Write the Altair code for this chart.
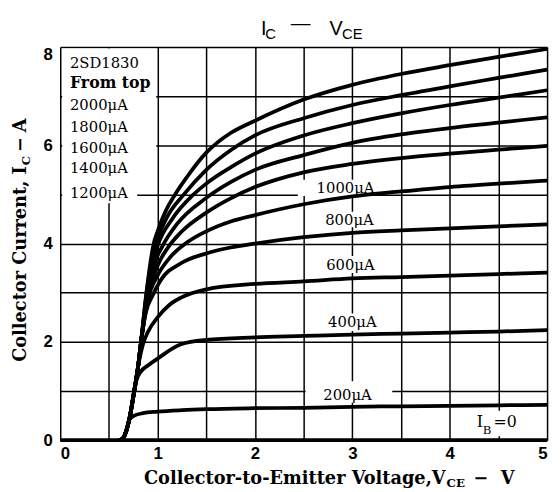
import altair as alt
import pandas as pd

# ---------------- data ----------------
grid_vce = [0, 0.5, 1, 1.5, 2, 2.5, 3, 3.5, 4, 4.5, 5]
grid_ic = [0, 1, 2, 3, 4, 5, 6, 7, 8]

ib_labels = ["2000μA", "1800μA", "1600μA", "1400μA", "1200μA",
             "1000μA", "800μA", "600μA", "400μA", "200μA", "0"]

vce_2000 = [0.6, 0.64, 0.68, 0.71, 0.76, 0.8, 0.83, 0.885, 0.96, 1.0, 1.08, 1.18, 1.3, 1.5, 1.61, 1.75, 2.0, 2.5, 3.0, 3.5, 4.0, 4.5, 5.0]
ic_2000 = [0.0, 0.03, 0.2, 0.43, 1.0, 1.5, 2.0, 3.0, 4.0, 4.25, 4.65, 5.0, 5.35, 5.85, 6.05, 6.25, 6.5, 6.93, 7.23, 7.45, 7.63, 7.8, 7.96]

vce_1800 = [0.6, 0.64, 0.68, 0.71, 0.76, 0.8, 0.83, 0.885, 0.96, 1.0, 1.1, 1.27, 1.5, 1.75, 2.0, 2.5, 3.0, 3.5, 4.0, 4.5, 5.0]
ic_1800 = [0.0, 0.03, 0.2, 0.43, 1.0, 1.5, 2.0, 2.97, 3.85, 4.1, 4.55, 5.0, 5.5, 5.9, 6.2, 6.55, 6.82, 7.02, 7.2, 7.37, 7.54]

vce_1600 = [0.6, 0.64, 0.68, 0.71, 0.76, 0.8, 0.83, 0.89, 0.97, 1.0, 1.15, 1.37, 1.5, 1.75, 2.0, 2.5, 3.0, 3.5, 4.0, 4.5, 5.0]
ic_1600 = [0.0, 0.03, 0.2, 0.43, 1.0, 1.5, 2.0, 2.95, 3.75, 3.95, 4.5, 5.0, 5.22, 5.55, 5.83, 6.2, 6.45, 6.65, 6.82, 6.97, 7.12]

vce_1400 = [0.6, 0.64, 0.68, 0.71, 0.76, 0.8, 0.83, 0.9, 0.98, 1.05, 1.2, 1.5, 1.75, 2.0, 2.5, 3.0, 3.5, 4.0, 4.5, 5.0]
ic_1400 = [0.0, 0.03, 0.2, 0.43, 1.0, 1.5, 2.0, 2.95, 3.65, 3.95, 4.4, 4.93, 5.25, 5.5, 5.8, 6.05, 6.22, 6.35, 6.46, 6.57]

vce_1200 = [0.6, 0.64, 0.68, 0.71, 0.76, 0.8, 0.83, 0.9, 1.0, 1.1, 1.25, 1.5, 1.75, 2.0, 2.5, 3.0, 3.5, 4.0, 4.5, 5.0]
ic_1200 = [0.0, 0.03, 0.2, 0.43, 1.0, 1.5, 2.0, 2.9, 3.55, 3.9, 4.25, 4.63, 4.92, 5.15, 5.45, 5.62, 5.74, 5.83, 5.91, 5.99]

vce_1000 = [0.6, 0.64, 0.68, 0.71, 0.76, 0.8, 0.83, 0.9, 1.0, 1.12, 1.3, 1.5, 1.75, 2.0, 2.5, 3.0, 3.5, 4.0, 4.5, 5.0]
ic_1000 = [0.0, 0.03, 0.2, 0.43, 1.0, 1.5, 2.0, 2.85, 3.35, 3.7, 4.02, 4.25, 4.45, 4.58, 4.8, 4.96, 5.06, 5.15, 5.22, 5.28]

vce_800 = [0.6, 0.64, 0.68, 0.71, 0.76, 0.8, 0.83, 0.88, 0.95, 1.03, 1.24, 1.5, 1.75, 2.0, 2.5, 3.0, 3.5, 4.0, 4.5, 5.0]
ic_800 = [0.0, 0.03, 0.2, 0.43, 1.0, 1.5, 2.0, 2.6, 2.95, 3.25, 3.6, 3.8, 3.92, 4.0, 4.13, 4.22, 4.27, 4.31, 4.35, 4.39]

vce_600 = [0.6, 0.64, 0.68, 0.71, 0.76, 0.8, 0.85, 0.9, 1.0, 1.12, 1.24, 1.5, 2.0, 2.5, 3.0, 3.5, 4.0, 4.5, 5.0]
ic_600 = [0.0, 0.03, 0.2, 0.43, 1.0, 1.5, 1.95, 2.2, 2.5, 2.75, 2.9, 3.07, 3.18, 3.23, 3.29, 3.32, 3.35, 3.38, 3.41]

vce_400 = [0.6, 0.64, 0.68, 0.71, 0.76, 0.78, 0.83, 0.9, 1.0, 1.24, 1.5, 2.0, 2.5, 3.0, 3.5, 4.0, 4.5, 5.0]
ic_400 = [0.0, 0.03, 0.2, 0.43, 1.0, 1.2, 1.4, 1.52, 1.66, 1.95, 2.04, 2.09, 2.12, 2.15, 2.17, 2.19, 2.21, 2.24]

vce_200 = [0.6, 0.64, 0.68, 0.71, 0.75, 0.85, 1.0, 1.25, 1.5, 2.0, 2.5, 3.0, 3.5, 4.0, 4.5, 5.0]
ic_200 = [0.0, 0.03, 0.2, 0.42, 0.49, 0.55, 0.58, 0.61, 0.63, 0.65, 0.66, 0.68, 0.69, 0.7, 0.71, 0.72]

vce_0 = [0.0, 5.0]
ic_0 = [0.0, 0.0]

series_vce = [vce_2000, vce_1800, vce_1600, vce_1400, vce_1200,
              vce_1000, vce_800, vce_600, vce_400, vce_200, vce_0]
series_ic = [ic_2000, ic_1800, ic_1600, ic_1400, ic_1200,
             ic_1000, ic_800, ic_600, ic_400, ic_200, ic_0]

# legend box text (top-left)
box_texts = ["2SD1830", "From top", "2000μA", "1800μA", "1600μA", "1400μA", "1200μA"]
box_text_y = [7.68, 7.27, 6.81, 6.37, 5.95, 5.53, 5.03]
box_text_bold = [False, True, False, False, False, False, False]

# curve labels
curve_label_text = ["1000μA", "800μA", "600μA", "400μA", "200μA"]
curve_label_x = [2.93, 2.97, 2.98, 3.0, 2.95]
curve_label_y = [5.13, 4.47, 3.57, 2.4, 0.92]

# white label backgrounds (they hide the grid)
bg_x1 = [0.02, 0.02, 2.44, 2.72, 2.72, 2.72, 2.52, 4.2]
bg_x2 = [0.985, 0.79, 3.2, 3.25, 3.25, 3.28, 3.41, 4.8]
bg_y1 = [5.04, 4.82, 4.97, 4.33, 3.4, 2.22, 0.76, 0.08]
bg_y2 = [7.97, 5.04, 5.3, 4.65, 3.75, 2.58, 1.2, 0.6]

# ---------------- tables ----------------
rows = []
for name, xs, ys in zip(ib_labels, series_vce, series_ic):
    for k, (a, b) in enumerate(zip(xs, ys)):
        rows.append({"ib": name, "vce": a, "ic": b, "k": k})
curves = pd.DataFrame(rows)

box_df = pd.DataFrame({"text": box_texts, "y": box_text_y, "bold": box_text_bold})
box_df["x"] = 0.1
lab_df = pd.DataFrame({"text": curve_label_text, "x": curve_label_x, "y": curve_label_y})
bg_df = pd.DataFrame({"x1": bg_x1, "x2": bg_x2, "y1": bg_y1, "y2": bg_y2})

W, H = 494, 399
xscale = alt.Scale(domain=[0, 5], nice=False, zero=False)
yscale = alt.Scale(domain=[0, 8], nice=False, zero=False)

SERIF = "DejaVu Serif"
TICKFONT = "Liberation Sans"

x_axis = alt.Axis(values=grid_vce, grid=True, gridColor="black", gridWidth=1.5,
                  gridOpacity=1, ticks=False, domain=False, title=None,
                  labelExpr="datum.value % 1 == 0 ? format(datum.value, 'd') : ''",
                  labelFont=TICKFONT, labelFontWeight="bold", labelFontSize=17,
                  labelColor="black", labelPadding=6)
y_axis = alt.Axis(values=grid_ic, grid=True, gridColor="black", gridWidth=1.5,
                  gridOpacity=1, ticks=False, domain=False, title=None,
                  labelExpr="datum.value % 2 == 0 ? format(datum.value, 'd') : ''",
                  labelBaseline={"condition": {"test": "datum.value == 8", "value": "top"},
                                 "value": "middle"},
                  labelFont=TICKFONT, labelFontWeight="bold", labelFontSize=17,
                  labelColor="black", labelPadding=8)

bg = alt.Chart(bg_df).mark_rect(color="white").encode(
    x=alt.X("x1:Q", scale=xscale, axis=x_axis),
    x2="x2:Q",
    y=alt.Y("y1:Q", scale=yscale, axis=y_axis),
    y2="y2:Q",
)

lines = alt.Chart(curves).mark_line(color="black", strokeWidth=3.8,
                                    interpolate="monotone").encode(
    x=alt.X("vce:Q", scale=xscale),
    y=alt.Y("ic:Q", scale=yscale),
    detail="ib:N",
    order="k:Q",
)

box_plain = alt.Chart(box_df[~box_df["bold"]]).mark_text(
    font=SERIF, fontSize=15, align="left", baseline="middle", color="black"
).encode(x=alt.X("x:Q", scale=xscale), y=alt.Y("y:Q", scale=yscale), text="text:N")

box_bold = alt.Chart(box_df[box_df["bold"]]).mark_text(
    font=SERIF, fontSize=16, fontWeight="bold", align="left", baseline="middle", color="black"
).encode(x=alt.X("x:Q", scale=xscale), y=alt.Y("y:Q", scale=yscale), text="text:N")

curve_labels = alt.Chart(lab_df).mark_text(
    font=SERIF, fontSize=15, align="center", baseline="middle", color="black"
).encode(x=alt.X("x:Q", scale=xscale), y=alt.Y("y:Q", scale=yscale), text="text:N")

one = pd.DataFrame({"d": [0]})


def piece(text, px, py, size, font, align="left", baseline="alphabetic",
          weight="normal", angle=0):
    kw = dict(text=text, font=font, fontSize=size, align=align,
              baseline=baseline, fontWeight=weight, color="black")
    if angle:
        kw["angle"] = angle
    return alt.Chart(one).mark_text(**kw).encode(x=alt.value(px), y=alt.value(py))


def dx(v):
    return v / 5 * W


def dy(v):
    return H - v / 8 * H


TS = 18  # axis-title font size

pieces = [
    # chart title  I_C — V_CE
    piece("I", 206.5, -12, 20, "Liberation Sans", align="center"),
    piece("C", 208, -8, 15, "Liberation Sans"),
    piece("—", 244, -23, 20, "Liberation Sans", align="center", baseline="middle"),
    piece("V", 280, -12, 20, "Liberation Sans", align="center"),
    piece("CE", 286, -8, 15, "Liberation Sans"),
    # x title
    piece("Collector-to-Emitter Voltage,V", 391, 443, TS, SERIF, align="right", weight="bold"),
    piece("CE", 392, 446, 12, SERIF, weight="bold"),
    piece("−", 427, 443, TS, SERIF, align="center", weight="bold"),
    piece("V", 454, 443, TS, SERIF, align="center", weight="bold"),
    # y title (rotated)
    piece("Collector Current, I", -35, 121, TS, SERIF, align="right", weight="bold", angle=270),
    piece("C", -31, 120, 12, SERIF, weight="bold", angle=270),
    piece("−", -35, 99, TS, SERIF, align="center", weight="bold", angle=270),
    piece("A", -35, 79.5, TS, SERIF, align="center", weight="bold", angle=270),
    # I_B = 0
    piece("I", dx(4.31), dy(0.26), 16, SERIF, align="center"),
    piece("B", dx(4.34), dy(0.12), 12, SERIF),
    piece("=0", dx(4.45), dy(0.26), 16, SERIF),
]

chart = alt.layer(bg, lines, box_plain, box_bold, curve_labels, *pieces).properties(
    width=W, height=H,
    padding={"left": 53, "top": 36, "right": 5, "bottom": 48},
    autosize="none",
).configure_view(stroke="black", strokeWidth=2.2).configure(background="white")

chart.save("out.html", embed_options={"renderer": "svg", "actions": False})
